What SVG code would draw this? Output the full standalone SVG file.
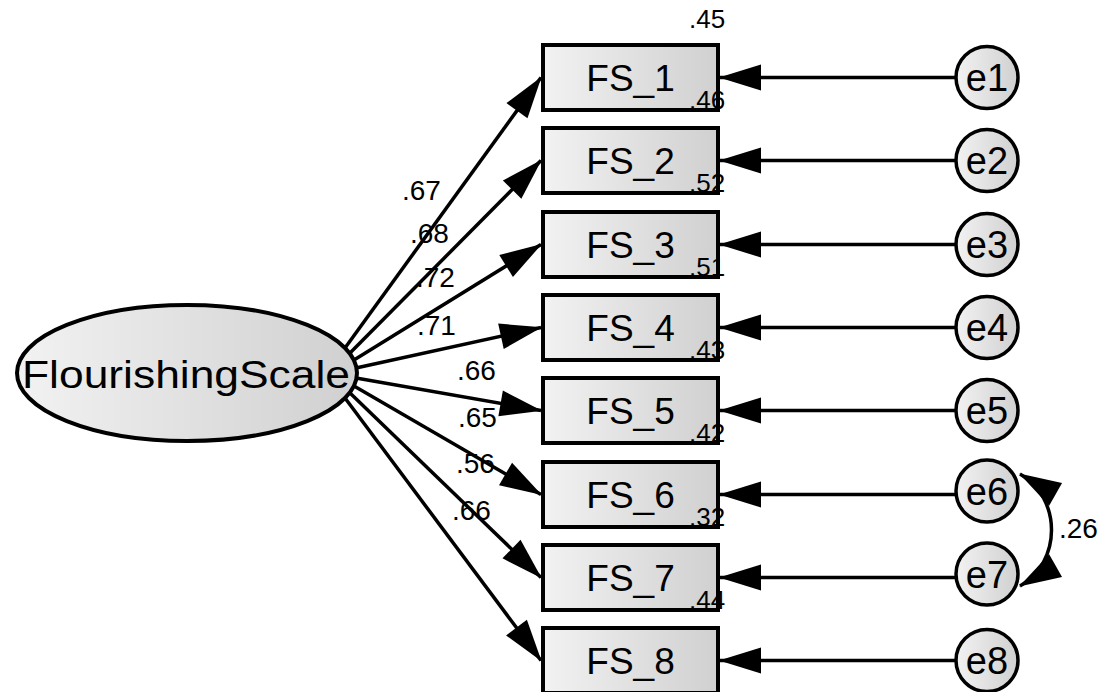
<svg xmlns="http://www.w3.org/2000/svg" width="1107" height="692" viewBox="0 0 1107 692">
<style>
.box{fill:url(#g);stroke:#000;stroke-width:4}
.circ{fill:url(#g);stroke:#000;stroke-width:3.5}
.ell{fill:url(#g);stroke:#000;stroke-width:4}
.ln{stroke:#000;stroke-width:3.5;fill:none}
.t{font-family:"Liberation Sans",Arial,sans-serif;fill:#000}
.nl{font-size:37px;text-anchor:middle}
.el{font-size:38px;text-anchor:middle}
.pl{font-size:28px}
.r2{font-size:26px}
</style>
<defs>
<linearGradient id="g" x1="0" y1="0" x2="1" y2="0">
<stop offset="0" stop-color="#f2f2f2"/>
<stop offset="1" stop-color="#d0d0d0"/>
</linearGradient>
<marker id="ah" markerUnits="userSpaceOnUse" markerWidth="42" markerHeight="26" viewBox="0 0 42 26" refX="41" refY="13" orient="auto-start-reverse" overflow="visible">
<path d="M0,0 L42,13 L0,26 z" fill="#000"/>
</marker>
</defs>
<g id="connectors">
<line class="ln" x1="345" y1="348" x2="541" y2="77.5" marker-end="url(#ah)"/>
<line class="ln" x1="350" y1="353" x2="541" y2="160.5" marker-end="url(#ah)"/>
<line class="ln" x1="354" y1="360" x2="541" y2="244.5" marker-end="url(#ah)"/>
<line class="ln" x1="356" y1="368" x2="541" y2="327.5" marker-end="url(#ah)"/>
<line class="ln" x1="356" y1="378" x2="541" y2="410.5" marker-end="url(#ah)"/>
<line class="ln" x1="354" y1="386" x2="541" y2="494.5" marker-end="url(#ah)"/>
<line class="ln" x1="350" y1="393" x2="541" y2="577.5" marker-end="url(#ah)"/>
<line class="ln" x1="345" y1="398" x2="541" y2="660.5" marker-end="url(#ah)"/>
<line class="ln" x1="956" y1="77.5" x2="720" y2="77.5" marker-end="url(#ah)"/>
<line class="ln" x1="956" y1="160.5" x2="720" y2="160.5" marker-end="url(#ah)"/>
<line class="ln" x1="956" y1="244.5" x2="720" y2="244.5" marker-end="url(#ah)"/>
<line class="ln" x1="956" y1="327.5" x2="720" y2="327.5" marker-end="url(#ah)"/>
<line class="ln" x1="956" y1="410.5" x2="720" y2="410.5" marker-end="url(#ah)"/>
<line class="ln" x1="956" y1="494.5" x2="720" y2="494.5" marker-end="url(#ah)"/>
<line class="ln" x1="956" y1="577.5" x2="720" y2="577.5" marker-end="url(#ah)"/>
<line class="ln" x1="956" y1="660.5" x2="720" y2="660.5" marker-end="url(#ah)"/>
<path class="ln" d="M1020,474 C1062,498 1062,562 1020,586" marker-start="url(#ah)" marker-end="url(#ah)"/>
<text class="t pl" x="402" y="200">.67</text>
<text class="t pl" x="410" y="243">.68</text>
<text class="t pl" x="416" y="287">.72</text>
<text class="t pl" x="417" y="335">.71</text>
<text class="t pl" x="457" y="380">.66</text>
<text class="t pl" x="458" y="427">.65</text>
<text class="t pl" x="456" y="473">.56</text>
<text class="t pl" x="452" y="520">.66</text>
<text class="t pl" x="1059" y="538">.26</text>
</g>
<g id="FlourishingScale">
<ellipse class="ell" cx="187" cy="373" rx="170" ry="68"/>
<text class="t" x="22" y="388" font-size="38" textLength="328" lengthAdjust="spacingAndGlyphs">FlourishingScale</text>
</g>
<g id="FS_1"><rect class="box" x="543" y="45" width="175" height="65"/><text class="t nl" x="630.5" y="91">FS_1</text><text class="t r2" x="689" y="28">.45</text></g>
<g id="FS_2"><rect class="box" x="543" y="128" width="175" height="65"/><text class="t nl" x="630.5" y="174">FS_2</text><text class="t r2" x="689" y="109">.46</text></g>
<g id="FS_3"><rect class="box" x="543" y="212" width="175" height="65"/><text class="t nl" x="630.5" y="258">FS_3</text><text class="t r2" x="689" y="192">.52</text></g>
<g id="FS_4"><rect class="box" x="543" y="295" width="175" height="65"/><text class="t nl" x="630.5" y="341">FS_4</text><text class="t r2" x="689" y="276">.51</text></g>
<g id="FS_5"><rect class="box" x="543" y="378" width="175" height="65"/><text class="t nl" x="630.5" y="424">FS_5</text><text class="t r2" x="689" y="359">.43</text></g>
<g id="FS_6"><rect class="box" x="543" y="462" width="175" height="65"/><text class="t nl" x="630.5" y="508">FS_6</text><text class="t r2" x="689" y="442">.42</text></g>
<g id="FS_7"><rect class="box" x="543" y="545" width="175" height="65"/><text class="t nl" x="630.5" y="591">FS_7</text><text class="t r2" x="689" y="526">.32</text></g>
<g id="FS_8"><rect class="box" x="543" y="628" width="175" height="65"/><text class="t nl" x="630.5" y="674">FS_8</text><text class="t r2" x="689" y="609">.44</text></g>
<g id="e1"><circle class="circ" cx="987" cy="77.5" r="31"/><text class="t el" x="987" y="91">e1</text></g>
<g id="e2"><circle class="circ" cx="987" cy="160.5" r="31"/><text class="t el" x="987" y="174">e2</text></g>
<g id="e3"><circle class="circ" cx="987" cy="244.5" r="31"/><text class="t el" x="987" y="258">e3</text></g>
<g id="e4"><circle class="circ" cx="987" cy="327.5" r="31"/><text class="t el" x="987" y="341">e4</text></g>
<g id="e5"><circle class="circ" cx="987" cy="410.5" r="31"/><text class="t el" x="987" y="424">e5</text></g>
<g id="e6"><circle class="circ" cx="987" cy="491" r="31"/><text class="t el" x="987" y="504.5">e6</text></g>
<g id="e7"><circle class="circ" cx="987" cy="574" r="31"/><text class="t el" x="987" y="587.5">e7</text></g>
<g id="e8"><circle class="circ" cx="987" cy="660.5" r="31"/><text class="t el" x="987" y="674">e8</text></g>
</svg>
